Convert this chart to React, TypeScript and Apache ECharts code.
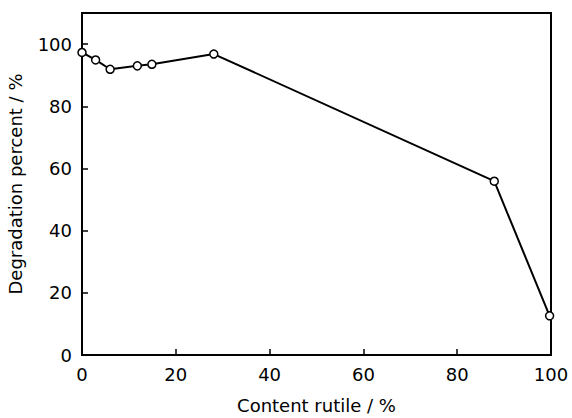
import React, { useEffect, useRef } from "react";
import * as echarts from "echarts";

const rutileContent = [0, 2.9, 6.0, 11.8, 14.9, 28.1, 87.9, 99.7];
const degradation = [97.3, 94.9, 91.9, 93.0, 93.5, 96.8, 55.9, 12.6];
const xTicks = [0, 20, 40, 60, 80, 100];
const yTicks = [0, 20, 40, 60, 80, 100];

export default function App() {
  const ref = useRef<HTMLDivElement>(null);
  useEffect(() => {
    if (!ref.current) return;
    const chart = echarts.init(ref.current, null, { renderer: "svg" });
    const font = "DejaVu Sans";
    chart.setOption({
      animation: false,
      backgroundColor: "#fff",
      grid: {
        left: 82,
        right: 21,
        top: 13,
        bottom: 63,
        outerBoundsMode: "none",
        containLabel: false,
        show: true,
        borderColor: "#000",
        borderWidth: 2,
        backgroundColor: "transparent",
      },
      xAxis: {
        type: "value",
        min: 0,
        max: 100,
        interval: 20,
        name: "Content rutile / %",
        nameLocation: "middle",
        nameGap: 41,
        nameTextStyle: { fontFamily: font, fontSize: 18, color: "#000" },
        axisLine: { show: true, lineStyle: { color: "#000", width: 2 } },
        axisTick: { show: true, inside: true, length: 6, lineStyle: { color: "#000", width: 1.5 } },
        axisLabel: {
          fontFamily: font,
          fontSize: 18,
          color: "#000",
          margin: 10,
          formatter: (v: number) => (xTicks.includes(v) ? String(v) : ""),
        },
        splitLine: { show: false },
      },
      yAxis: {
        type: "value",
        min: 0,
        max: 110,
        interval: 20,
        name: "Degradation percent / %",
        nameLocation: "middle",
        nameGap: 58,
        nameTextStyle: { fontFamily: font, fontSize: 18, color: "#000" },
        axisLine: { show: true, lineStyle: { color: "#000", width: 2 } },
        axisTick: { show: true, inside: true, length: 6, lineStyle: { color: "#000", width: 1.5 } },
        axisLabel: {
          fontFamily: font,
          fontSize: 18,
          color: "#000",
          margin: 10,
          showMaxLabel: false,
          formatter: (v: number) => (yTicks.includes(v) ? String(v) : ""),
        },
        splitLine: { show: false },
      },
      series: [
        {
          type: "line",
          data: rutileContent.map((x, i) => [x, degradation[i]]),
          symbol: "circle",
          symbolSize: 8,
          lineStyle: { color: "#000", width: 2 },
          itemStyle: { color: "#fff", borderColor: "#000", borderWidth: 1.5 },
          clip: false,
          z: 1,
        },
      ],
    });
    return () => chart.dispose();
  }, []);
  return <div ref={ref} style={{ width: 572, height: 418, position: "absolute", left: 0, top: 0 }} />;
}
